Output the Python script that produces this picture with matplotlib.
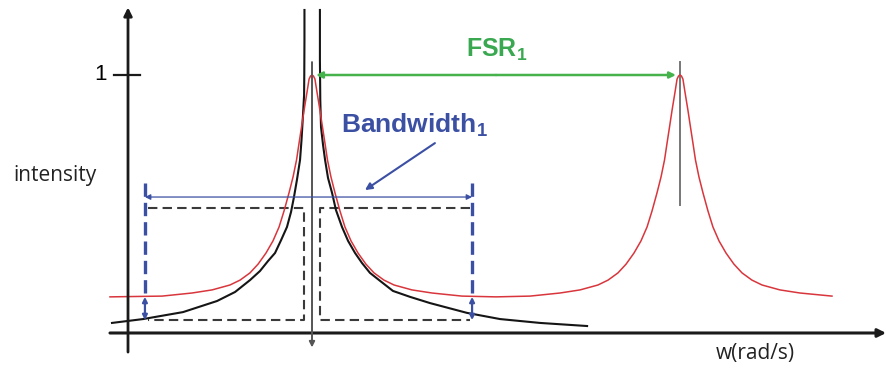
import matplotlib
matplotlib.use("Agg")
import matplotlib.pyplot as plt

plt.rcParams['font.family'] = ['Liberation Sans', 'DejaVu Sans']
plt.rcParams['mathtext.fontset'] = 'custom'
plt.rcParams['mathtext.rm'] = 'Liberation Sans'
plt.rcParams['mathtext.bf'] = 'Liberation Sans:bold'

# red curve (resonator response), peaks at w = 1 and w = 3
red_w = [-0.098, 0.185, 0.348, 0.457, 0.554, 0.609, 0.663, 0.707, 0.750, 0.788,
         0.821, 0.848, 0.875, 0.897, 0.916, 0.929, 0.943, 0.957, 0.973, 0.984,
         0.992, 1.000,
         1.008, 1.016, 1.027, 1.043, 1.057, 1.071, 1.084, 1.103, 1.125, 1.152,
         1.179, 1.212, 1.250, 1.293, 1.337, 1.391, 1.446, 1.543, 1.652, 1.815,
         2.000,
         2.185, 2.348, 2.457, 2.554, 2.609, 2.663, 2.707, 2.750, 2.788, 2.821,
         2.848, 2.875, 2.897, 2.916, 2.929, 2.943, 2.957, 2.973, 2.984, 2.992,
         3.000,
         3.008, 3.016, 3.027, 3.043, 3.057, 3.071, 3.084, 3.103, 3.125, 3.152,
         3.179, 3.212, 3.250, 3.293, 3.337, 3.391, 3.446, 3.543, 3.652, 3.826]
red_i = [0.140, 0.143, 0.155, 0.167, 0.186, 0.205, 0.233, 0.267, 0.310, 0.357,
         0.411, 0.473, 0.543, 0.605, 0.671, 0.733, 0.798, 0.864, 0.934, 0.984,
         0.996, 1.000,
         0.996, 0.984, 0.934, 0.864, 0.798, 0.733, 0.671, 0.605, 0.543, 0.473,
         0.411, 0.357, 0.310, 0.267, 0.233, 0.205, 0.186, 0.167, 0.155, 0.143,
         0.140,
         0.143, 0.155, 0.167, 0.186, 0.205, 0.233, 0.267, 0.310, 0.357, 0.411,
         0.473, 0.543, 0.605, 0.671, 0.733, 0.798, 0.864, 0.934, 0.984, 0.996,
         1.000,
         0.996, 0.984, 0.934, 0.864, 0.798, 0.733, 0.671, 0.605, 0.543, 0.473,
         0.411, 0.357, 0.310, 0.267, 0.233, 0.205, 0.186, 0.167, 0.155, 0.143]

# black curve, two branches around the first resonance
blk_left_w = [-0.087, 0.082, 0.299, 0.484, 0.582, 0.663, 0.717, 0.761, 0.799,
              0.832, 0.864, 0.886, 0.902, 0.918, 0.935, 0.943, 0.951, 0.957,
              0.958, 0.959, 0.959]
blk_left_i = [0.039, 0.054, 0.081, 0.124, 0.159, 0.205, 0.240, 0.279, 0.310,
              0.360, 0.411, 0.469, 0.527, 0.593, 0.671, 0.748, 0.845, 0.922,
              1.000, 1.136, 1.252]
blk_right_w = [1.043, 1.043, 1.045, 1.049, 1.060, 1.071, 1.087, 1.109, 1.130,
               1.163, 1.196, 1.234, 1.272, 1.315, 1.370, 1.440, 1.533, 1.641,
               1.842, 2.022, 2.239, 2.495]
blk_right_i = [1.252, 1.058, 0.903, 0.798, 0.729, 0.671, 0.601, 0.543, 0.477,
               0.411, 0.357, 0.310, 0.271, 0.233, 0.202, 0.163, 0.140, 0.116,
               0.078, 0.054, 0.039, 0.027]

# dashed boxes (half max level / floor)
box_left_w = [0.109, 0.957, 0.957, 0.109]
box_left_i = [0.484, 0.484, 0.050, 0.050]
box_right_w = [1.859, 1.043, 1.043, 1.859]
box_right_i = [0.484, 0.484, 0.050, 0.050]

peaks_w = [1.0, 3.0]
bw_edges = [0.092, 1.870]
bw_level = 0.527
red_floor = 0.140
blk_floor = 0.050

fig = plt.figure(figsize=(8.86, 3.72), dpi=100)
fig.patch.set_facecolor("w")
ax = fig.add_axes([0, 0, 1, 1])
ax.set_xlim(-0.6957, 4.1196)
ax.set_ylim(-0.1512, 1.2907)
ax.set_axis_off()

def arrow(p0, p1, style='-|>', color='k', lw=1.0, ms=10):
    ax.annotate('', xy=p1, xytext=p0,
                arrowprops=dict(arrowstyle=style, color=color, lw=lw,
                                mutation_scale=ms, shrinkA=0, shrinkB=0))

# axes
arrow((0.0, -0.074), (0.0, 1.262), color='#1a1a1a', lw=2.0, ms=12)
arrow((-0.098, 0.0), (4.12, 0.0), color='#1a1a1a', lw=2.2, ms=12)
ax.plot([-0.076, 0.065], [1.0, 1.0], color='#1a1a1a', lw=1.6)
ax.text(-0.152, 1.0, '1', fontsize=16, ha='center', va='center')

# gray markers at the resonances
arrow((peaks_w[0], 1.05), (peaks_w[0], -0.056), color='#555555', lw=1.4, ms=8)
ax.plot([peaks_w[1], peaks_w[1]], [1.05, 0.496], color='#777777', lw=1.4)

# dashed boxes
for bw, bi in [(box_left_w, box_left_i), (box_right_w, box_right_i)]:
    ax.plot(bw, bi, color='#3a3a3a', lw=1.5, ls=(0, (4.5, 2.5)))

# curves
ax.plot(blk_left_w, blk_left_i, color='#151515', lw=1.5, solid_joinstyle='round')
ax.plot(blk_right_w, blk_right_i, color='#151515', lw=1.5, solid_joinstyle='round')
ax.plot(red_w, red_i, color='#d8363c', lw=1.1, solid_joinstyle='round')

# bandwidth markers
blue = '#3b4fa3'
for x in bw_edges:
    ax.plot([x, x], [0.58, red_floor], color=blue, lw=2.4, ls=(0, (4, 1.8)))
    arrow((x, red_floor), (x, blk_floor), style='<|-|>', color=blue, lw=1.6, ms=7)
arrow((bw_edges[0], bw_level), (bw_edges[1], bw_level), style='<|-|>',
      color=blue, lw=0.9, ms=8)
arrow((1.668, 0.736), (1.288, 0.554), color=blue, lw=1.5, ms=10)
ax.text(1.554, 0.806, r'Bandwidth$_\mathbf{1}$', color=blue, fontsize=19,
        fontweight='bold', ha='center', va='center')

# free spectral range
green = '#45b24c'
arrow((2.0, 1.0), (1.022, 1.0), color=green, lw=1.8, ms=9)
arrow((2.0, 1.0), (2.978, 1.0), color=green, lw=1.8, ms=9)
ax.text(2.005, 1.097, r'FSR$_\mathbf{1}$', color='#3aa851', fontsize=18,
        fontweight='bold', ha='center', va='center')

# axis labels
ax.text(-0.397, 0.612, 'intensity', fontsize=15, family=['Open Sans', 'DejaVu Sans'],
        ha='center', va='center', color='#222222')
ax.text(3.408, -0.081, 'w(rad/s)', fontsize=15, family=['Open Sans', 'DejaVu Sans'],
        ha='center', va='center', color='#222222')

fig.savefig('out.png', dpi=100)
